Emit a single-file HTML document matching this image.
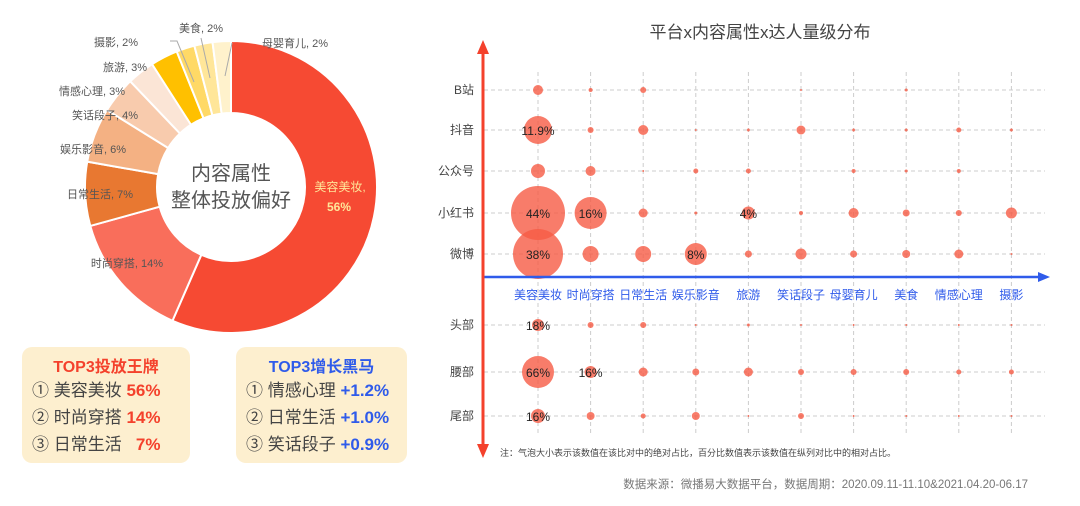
<!DOCTYPE html>
<html><head><meta charset="utf-8">
<style>
body{margin:0;width:1080px;height:501px;background:#fff;overflow:hidden;font-family:"Liberation Sans","Noto Sans CJK SC",sans-serif;}
svg text{font-family:"Liberation Sans","Noto Sans CJK SC",sans-serif;}
.box{position:absolute;background:#FDEFCF;border-radius:10px;}
.box .t{font-weight:bold;font-size:16px;text-align:center;margin-top:6px;}
.box .l{font-size:17px;color:#444;margin-left:10px;line-height:27px;white-space:nowrap}
.box .l b{font-weight:bold}
</style></head><body>
<svg id="s" width="1080" height="501" xmlns="http://www.w3.org/2000/svg"></svg>
<div class="box" style="left:22px;top:347px;width:168px;height:116px">
 <div class="t" style="color:#F4412C">TOP3投放王牌</div>
 <div class="l">① 美容美妆 <b style="color:#F4412C">56%</b></div>
 <div class="l">② 时尚穿搭 <b style="color:#F4412C">14%</b></div>
 <div class="l">③ 日常生活 &nbsp;&nbsp;<b style="color:#F4412C">7%</b></div>
</div>
<div class="box" style="left:236px;top:347px;width:171px;height:116px">
 <div class="t" style="color:#2F5BEA">TOP3增长黑马</div>
 <div class="l">① 情感心理 <b style="color:#2F5BEA">+1.2%</b></div>
 <div class="l">② 日常生活 <b style="color:#2F5BEA">+1.0%</b></div>
 <div class="l">③ 笑话段子 <b style="color:#2F5BEA">+0.9%</b></div>
</div>
<script>
var s=document.getElementById('s'),h='';
// donut
var cx=231,cy=187,R=146,r=74;
var seg=[[56,'#F64A33'],[14,'#F96E5B'],[7,'#E87831'],[6,'#F4B183'],[4,'#F8CBAD'],[3,'#FBE5D6'],[3,'#FFC000'],[2,'#FFD966'],[2,'#FFE699'],[2,'#FFF2CC']];
var tot=99,a=0;
function pt(rad,ang){return [cx+rad*Math.sin(ang),cy-rad*Math.cos(ang)];}
seg.forEach(function(g){var a0=a/tot*2*Math.PI;a+=g[0];var a1=a/tot*2*Math.PI;var lg=(a1-a0)>Math.PI?1:0;
var p1=pt(R,a0),p2=pt(R,a1),p3=pt(r,a1),p4=pt(r,a0);
h+='<path d="M'+p1+' A'+R+','+R+' 0 '+lg+' 1 '+p2+' L'+p3+' A'+r+','+r+' 0 '+lg+' 0 '+p4+' Z" fill="'+g[1]+'" stroke="#fff" stroke-width="2"/>';});
h+='<text x="231" y="180" font-size="20" fill="#555" text-anchor="middle">内容属性</text><text x="231" y="207" font-size="20" fill="#555" text-anchor="middle">整体投放偏好</text>';
h+='<text x="340" y="191" font-size="12" fill="#FFE699" text-anchor="middle">美容美妆,</text><text x="339" y="211" font-size="12" font-weight="bold" fill="#FFE699" text-anchor="middle">56%</text>';
var lb=[['时尚穿搭, 14%',127,267],['日常生活, 7%',100,198],['娱乐影音, 6%',93,153],['笑话段子, 4%',105,119],['情感心理, 3%',92,95],['旅游, 3%',125,71],['摄影, 2%',116,46],['美食, 2%',201,32],['母婴育儿, 2%',295,47]];
lb.forEach(function(l){h+='<text x="'+l[1]+'" y="'+l[2]+'" font-size="11" fill="#555" text-anchor="middle">'+l[0]+'</text>';});
h+='<path d="M170,41 L177,41 L194,82 M201,38 L210,78 M232,43 L225,76" stroke="#aaa" fill="none"/>';
// bubble chart
h+='<text x="760" y="38" font-size="17" fill="#444" text-anchor="middle">平台x内容属性x达人量级分布</text>';
var cols=['美容美妆','时尚穿搭','日常生活','娱乐影音','旅游','笑话段子','母婴育儿','美食','情感心理','摄影'];
var X=cols.map(function(c,i){return 538+52.6*i;});
var rows=[['B站',90],['抖音',130],['公众号',171],['小红书',213],['微博',254],['头部',325],['腰部',372],['尾部',416]];
X.forEach(function(x){h+='<line x1="'+x+'" y1="72" x2="'+x+'" y2="436" stroke="#ccc" stroke-dasharray="4,3"/>';});
rows.forEach(function(rw){h+='<line x1="484" y1="'+rw[1]+'" x2="1045" y2="'+rw[1]+'" stroke="#ccc" stroke-dasharray="4,3"/><text x="474" y="'+(rw[1]+4)+'" font-size="12" fill="#444" text-anchor="end">'+rw[0]+'</text>';});
var sz=[[5,2,3,0,0,1,0,1.5,0,0],[14,3,5,1,1.5,4.5,1.5,1.5,2.5,1.5],[7,5,1,2.5,2.5,0,2,1.5,2,0],[27,16,4.5,1.5,6.5,2,5,3.5,3,5.5],[25,8,8,11,3.5,5.5,3.5,4,4.5,1],[6,3,3,1,1.5,1,1,1,1,1],[16,6,4.5,3.5,4.5,3,3,3,2.5,2.5],[7,4,2.5,4,1,3,1,1,1,1]];
sz.forEach(function(row,ri){row.forEach(function(v,ci){if(v>0)h+='<circle cx="'+X[ci]+'" cy="'+rows[ri][1]+'" r="'+v+'" fill="#F65B45" fill-opacity="0.8"/>';});});
var tx=[[1,0,'11.9%'],[3,0,'44%'],[3,1,'16%'],[3,4,'4%'],[4,0,'38%'],[4,3,'8%'],[5,0,'18%'],[6,0,'66%'],[6,1,'16%'],[7,0,'16%']];
tx.forEach(function(t){h+='<text x="'+X[t[1]]+'" y="'+(rows[t[0]][1]+5)+'" font-size="12" fill="#222" text-anchor="middle">'+t[2]+'</text>';});
h+='<line x1="483" y1="277" x2="1042" y2="277" stroke="#2F5BEA" stroke-width="2.5"/><polygon points="1050,277 1038,272 1038,282" fill="#2F5BEA"/>';
h+='<line x1="483" y1="52" x2="483" y2="448" stroke="#F4412C" stroke-width="3"/><polygon points="483,40 477,54 489,54" fill="#F4412C"/><polygon points="483,458 477,444 489,444" fill="#F4412C"/>';
X.forEach(function(x,i){h+='<text x="'+x+'" y="299" font-size="12" fill="#2F5BEA" text-anchor="middle">'+cols[i]+'</text>';});
h+='<text x="500" y="456" font-size="9" fill="#444">注：气泡大小表示该数值在该比对中的绝对占比，百分比数值表示该数值在纵列对比中的相对占比。</text>';
h+='<text x="1028" y="488" font-size="11.5" fill="#777" text-anchor="end">数据来源：微播易大数据平台，数据周期：2020.09.11-11.10&amp;2021.04.20-06.17</text>';
s.innerHTML=h;
</script>
</body></html>
